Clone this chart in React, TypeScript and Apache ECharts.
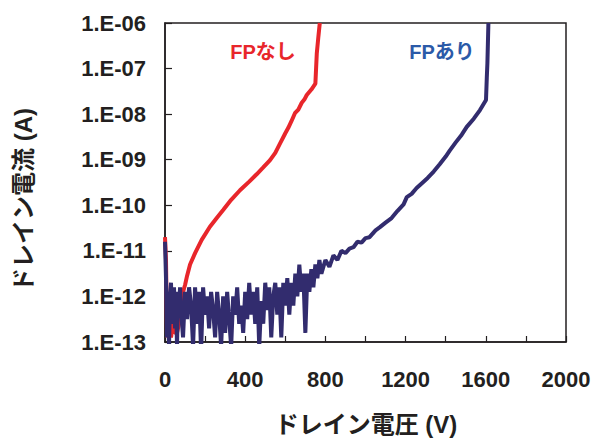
import React, { useEffect, useRef } from "react";
import * as echarts from "echarts";

// Drain voltage (V) and log10 of drain current (A)
const redV = [0, 5, 10, 15, 20, 30, 40, 50, 60, 70, 80, 90, 100, 110, 125, 150, 183, 224, 260, 291, 330, 374, 420, 457, 490, 524, 550, 574, 600, 615, 630, 648, 665, 682, 695, 707, 730, 750, 757, 765, 772];
const redLog = [-10.7, -11.2, -12.9, -12.6, -12.5, -12.9, -12.6, -12.8, -12.8, -12.6, -12.2, -11.9, -11.75, -11.55, -11.3, -11.05, -10.76, -10.47, -10.27, -10.1, -9.88, -9.67, -9.48, -9.32, -9.17, -9.01, -8.85, -8.64, -8.42, -8.3, -8.16, -7.98, -7.9, -7.75, -7.68, -7.58, -7.46, -7.33, -6.67, -6.3, -6.0];

const blueV = [0, 5, 10, 15, 20, 25, 30, 35, 40, 45, 50, 55, 60, 65, 70, 75, 80, 90, 100, 110, 120, 130, 140, 150, 160, 170, 180, 190, 200, 210, 220, 230, 240, 250, 260, 270, 280, 290, 300, 310, 320, 330, 340, 350, 360, 370, 380, 390, 400, 410, 420, 430, 440, 450, 460, 470, 480, 490, 500, 510, 520, 530, 540, 550, 560, 570, 580, 590, 600, 610, 620, 630, 640, 650, 660, 670, 680, 690, 700, 710, 720, 730, 740, 750, 760, 770, 780, 800, 820, 840, 860, 880, 900, 920, 940, 960, 980, 1000, 1020, 1050, 1072, 1100, 1130, 1160, 1190, 1206, 1230, 1255, 1280, 1310, 1340, 1370, 1400, 1420, 1450, 1480, 1505, 1540, 1571, 1601, 1605, 1608, 1613];
const blueLog = [-10.8, -11.6, -12.9, -11.9, -13.1, -12.0, -11.7, -12.6, -12.2, -11.8, -12.7, -12.1, -13.1, -11.9, -12.4, -11.8, -12.3, -12.9, -11.9, -12.5, -11.8, -12.2, -13.1, -11.8, -12.6, -11.9, -13.2, -11.8, -12.4, -12.0, -12.7, -11.9, -12.3, -12.9, -11.9, -12.4, -13.1, -12.0, -12.8, -11.9, -12.5, -13.1, -12.0, -12.4, -11.8, -12.6, -12.2, -12.8, -11.9, -12.5, -11.7, -12.4, -11.9, -12.6, -11.8, -13.1, -12.1, -12.6, -11.7, -12.3, -11.8, -12.9, -12.0, -11.7, -12.4, -11.8, -12.9, -11.7, -12.2, -11.6, -12.4, -11.7, -12.2, -11.5, -12.0, -11.3, -11.9, -11.5, -12.8, -11.5, -11.9, -11.4, -11.8, -11.3, -11.6, -11.2, -11.5, -11.2, -11.35, -11.1, -11.2, -11.0, -11.05, -10.95, -10.92, -10.8, -10.82, -10.72, -10.7, -10.55, -10.48, -10.38, -10.28, -10.12, -9.98, -9.82, -9.75, -9.62, -9.52, -9.4, -9.26, -9.1, -8.93, -8.8, -8.62, -8.45, -8.28, -8.1, -7.91, -7.69, -7.2, -6.88, -6.0];

const xTicks = [0, 400, 800, 1200, 1600, 2000];
const yExponents = [-13, -12, -11, -10, -9, -8, -7, -6];

const seriesNames = ["FPなし", "FPあり"];
const xName = "ドレイン電圧 (V)";
const yName = "ドレイン電流 (A)";

const FONT = '"Liberation Sans", "Noto Sans CJK JP", Arial, sans-serif';
const AXIS_COLOR = "#231F20";

export default function App() {
  const ref = useRef<HTMLDivElement>(null);
  useEffect(() => {
    if (!ref.current) return;
    const chart = echarts.init(ref.current, null, { renderer: "svg" });
    const toData = (v: number[], l: number[]) => v.map((x, i) => [x, Math.pow(10, l[i])]);
    chart.setOption({
      animation: false,
      backgroundColor: "#ffffff",
      grid: {
        left: 165,
        top: 23,
        right: 31,
        bottom: 97,
        show: true,
        borderColor: AXIS_COLOR,
        borderWidth: 1.5,
        backgroundColor: "transparent",
      },
      xAxis: {
        type: "value",
        min: 0,
        max: 2000,
        interval: 200,
        axisLine: { show: true, lineStyle: { color: AXIS_COLOR, width: 1.5 } },
        axisTick: { show: true, inside: true, length: 6, lineStyle: { color: AXIS_COLOR, width: 1.2 } },
        splitLine: { show: false },
        axisLabel: {
          margin: 26,
          color: "#231F20",
          fontFamily: FONT,
          fontWeight: "bold",
          fontSize: 22,
          formatter: (v: number) => (xTicks.indexOf(v) >= 0 ? String(v) : ""),
        },
      },
      yAxis: {
        type: "log",
        logBase: 10,
        min: Math.pow(10, yExponents[0]),
        max: Math.pow(10, yExponents[yExponents.length - 1]),
        axisLine: { show: true, lineStyle: { color: AXIS_COLOR, width: 1.5 } },
        axisTick: { show: true, inside: true, length: 7, lineStyle: { color: AXIS_COLOR, width: 1.2 } },
        splitLine: { show: false },
        minorTick: { show: false },
        axisLabel: {
          margin: 19,
          color: "#231F20",
          fontFamily: FONT,
          fontWeight: "bold",
          fontSize: 22,
          formatter: (v: number) => {
            const e = Math.round(Math.log10(v));
            const a = Math.abs(e);
            return "1.E" + (e < 0 ? "-" : "+") + (a < 10 ? "0" + a : String(a));
          },
        },
      },
      graphic: [
        {
          type: "text",
          x: 263,
          y: 52,
          style: {
            text: seriesNames[0],
            fill: "#E8262B",
            font: `bold 20px ${FONT}`,
            align: "center",
            verticalAlign: "middle",
          },
        },
        {
          type: "text",
          x: 442,
          y: 52,
          style: {
            text: seriesNames[1],
            fill: "#2B5AA8",
            font: `bold 20px ${FONT}`,
            align: "center",
            verticalAlign: "middle",
          },
        },
        {
          type: "text",
          x: 366,
          y: 424,
          style: {
            text: xName,
            fill: "#231F20",
            font: `bold 24px ${FONT}`,
            align: "center",
            verticalAlign: "middle",
          },
        },
        {
          type: "text",
          x: 23,
          y: 200,
          rotation: Math.PI / 2,
          style: {
            text: yName,
            fill: "#231F20",
            font: `bold 24px ${FONT}`,
            align: "center",
            verticalAlign: "middle",
          },
        },
      ],
      series: [
        {
          name: seriesNames[0],
          type: "line",
          data: toData(redV, redLog),
          showSymbol: false,
          symbol: "none",
          clip: true,
          lineStyle: { color: "#E8262B", width: 4 },
        },
        {
          name: seriesNames[1],
          type: "line",
          data: toData(blueV, blueLog),
          showSymbol: false,
          symbol: "none",
          clip: true,
          lineStyle: { color: "#322C6E", width: 4 },
        },
      ],
    });
    return () => chart.dispose();
  }, []);
  return <div ref={ref} style={{ width: 597, height: 439, position: "absolute", left: 0, top: 0 }} />;
}
